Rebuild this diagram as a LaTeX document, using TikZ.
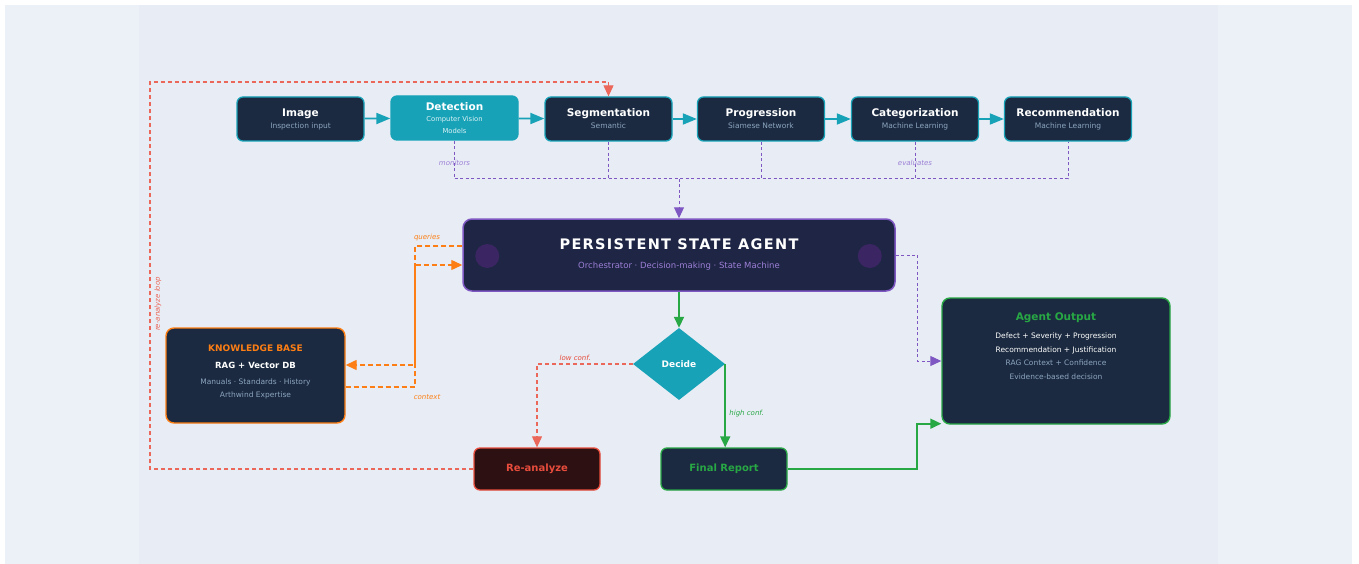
\documentclass[tikz,border=0pt]{standalone}
\usepackage{fontspec}
\setmainfont{DejaVu Sans}
\usetikzlibrary{arrows.meta,positioning,shapes.geometric}
\definecolor{navy}{HTML}{1B2A40}
\definecolor{agentbg}{HTML}{1F2545}
\definecolor{tealc}{HTML}{17A2B8}
\definecolor{subgray}{HTML}{8CA5BF}
\definecolor{purp}{HTML}{7E57C2}
\definecolor{purptxt}{HTML}{9C7FD6}
\definecolor{orng}{HTML}{FD7E14}
\definecolor{redc}{HTML}{E74C3C}
\definecolor{redbg}{HTML}{2C1012}
\definecolor{grn}{HTML}{28A745}
\definecolor{panel}{HTML}{ECF0F7}
\definecolor{panelin}{HTML}{E8EDF5}
\definecolor{dot}{HTML}{3B2563}
\newcommand{\boxtitle}{\fontsize{10.5}{13}\selectfont\bfseries}
\newcommand{\boxsub}{\fontsize{7.5}{9}\selectfont\mdseries\color{subgray}}
\newcommand{\tagtext}{\fontsize{7}{8}\selectfont\itshape}

\begin{document}
\begin{tikzpicture}[x=1pt,y=-1pt,
  stage/.style={draw=tealc,fill=navy,line width=1.3pt,rounded corners=6pt,
    minimum width=127pt,minimum height=44pt,inner sep=0pt,align=center,text=white},
  flow/.style={draw=tealc,line width=1.8pt,-{Triangle[length=14pt,width=11pt]}},
  mon/.style={draw=purp,line width=1pt,dash pattern=on 3pt off 2.5pt},
  kbline/.style={draw=orng,line width=1.4pt,dash pattern=on 5pt off 3pt},
  loopline/.style={draw=redc!85!white,line width=1.1pt,dash pattern=on 4pt off 3pt},
  okline/.style={draw=grn,line width=1.7pt},
  tip/.style={-{Triangle[length=11pt,width=10pt]}}]
% background
\fill[white] (0,0) rectangle (1359,564);
\fill[panel] (5,5) rectangle (1352,564);
\fill[panelin] (139,5) rectangle (1218,564);
\useasboundingbox (0,0) rectangle (1359,564);

% pipeline row
\node[stage] (img) at (300.5,119) {\boxtitle Image\\[0pt]\boxsub Inspection input};
\node[stage,fill=tealc] (det) at (454.5,118) {\boxtitle Detection\\[-1pt]%
  \fontsize{6.8}{9.5}\selectfont\color{white!85!tealc} Computer Vision\\ \fontsize{6.8}{9.5}\selectfont\color{white!85!tealc}Models};
\node[stage] (seg) at (608.5,119) {\boxtitle Segmentation\\[0pt]\boxsub Semantic};
\node[stage] (prog) at (761,119) {\boxtitle Progression\\[0pt]\boxsub Siamese Network};
\node[stage] (cat) at (915,119) {\boxtitle Categorization\\[0pt]\boxsub Machine Learning};
\node[stage] (rec) at (1068,119) {\boxtitle Recommendation\\[0pt]\boxsub Machine Learning};
\foreach \a/\b in {img/det,det/seg,seg/prog,prog/cat,cat/rec}
  \draw[flow] (\a) -- (\b);

% agent
\node[draw=purp,fill=agentbg,line width=1.5pt,rounded corners=9pt,minimum width=432pt,
  minimum height=72pt,inner sep=0pt,align=center,text=white] (agent) at (679,255)
  {{\fontsize{14.5}{17}\selectfont\bfseries\addfontfeature{LetterSpace=9}PERSISTENT STATE AGENT}\\[7pt]
   \fontsize{8.5}{10}\selectfont\color{purptxt}Orchestrator · Decision-making · State Machine};
\fill[dot] ([xshift=25pt,yshift=-1pt]agent.west) circle[radius=12pt];
\fill[dot] ([xshift=-26pt,yshift=-1pt]agent.east) circle[radius=12pt];

% monitoring bus
\coordinate (hub) at (679,179);
\draw[mon] (det.south) -- node[pos=0.57,text=purptxt]{\tagtext monitors} (det.south |- hub) -- (rec.south |- hub) -- (rec.south);
\draw[mon] (seg.south) -- (seg.south |- hub);
\draw[mon] (prog.south) -- (prog.south |- hub);
\draw[mon] (cat.south) -- node[pos=0.57,text=purptxt]{\tagtext evaluates} (cat.south |- hub);
\draw[mon,tip] (hub) -- (agent.north);

% knowledge base
\node[draw=orng,fill=navy,line width=1.4pt,rounded corners=8pt,minimum width=179pt,
  minimum height=95pt,inner sep=0pt] (kb) at (255.5,375.5) {};
\node[below=14pt of kb.north,align=center,text=white] (kbtxt)
  {{\fontsize{9}{11}\selectfont\bfseries\color{orng}KNOWLEDGE BASE}\\[5pt]
   {\fontsize{8.5}{11}\selectfont\bfseries RAG + Vector DB}\\[3.5pt]
   \fontsize{7.5}{13}\selectfont\color{subgray}Manuals · Standards · History\\[1pt]
   \fontsize{7.5}{13}\selectfont\color{subgray}Arthwind Expertise};
\draw[kbline,tip] ([yshift=9pt]agent.west) -| (415,320) |- ([yshift=10.5pt]kb.east);
\draw[kbline,tip] ([yshift=-11.5pt]kb.east) -| (415,300) |- ([yshift=-10pt]agent.west);
\node[text=orng] (qlab) at (427,238) {\tagtext queries};
\node[text=orng] (clab) at (427,397) {\tagtext context};

% decision
\node[diamond,fill=tealc,minimum width=92pt,minimum height=72pt,inner sep=0pt,
  text=white] (dec) at (679,364) {\fontsize{9}{11}\selectfont\bfseries Decide};
\draw[okline,tip] (agent.south) -- (dec.north);

\node[draw=redc,fill=redbg,line width=1.3pt,rounded corners=6pt,minimum width=126pt,
  minimum height=42pt,inner sep=0pt,text=redc] (rean) at (537,469)
  {\fontsize{10}{12}\selectfont\bfseries Re-analyze};
\node[draw=grn,fill=navy,line width=1.3pt,rounded corners=6pt,minimum width=126pt,
  minimum height=42pt,inner sep=0pt,text=grn] (final) at (724,469)
  {\fontsize{10}{12}\selectfont\bfseries Final Report};

\draw[loopline,tip] (dec.west) -| node[pos=0.3,above,text=redc]{\tagtext low conf.} (rean.north);
\draw[okline,tip] (dec.east) -- node[pos=0.6,right,text=grn]{\tagtext high conf.} (dec.east |- final.north);

% re-analyze loop
\coordinate (loopc) at (150,82);
\draw[loopline,tip] (rean.west) -| (loopc) -| (seg.north);
\node[rotate=90,text=redc!85!white] (looplab) at (158,304) {\tagtext re-analyze loop};

% output
\node[draw=grn,fill=navy,line width=1.4pt,rounded corners=8pt,minimum width=228pt,
  minimum height=126pt,inner sep=0pt] (out) at (1056,361) {};
\node[below=12pt of out.north,align=center,text=white] (outtxt)
  {{\fontsize{10.5}{13}\selectfont\bfseries\color{grn}Agent Output}\\[6pt]
   \fontsize{7.5}{13}\selectfont Defect + Severity + Progression\\[1.5pt]
   \fontsize{7.5}{13}\selectfont Recommendation + Justification\\[1.5pt]
   \fontsize{7.5}{13}\selectfont\color{subgray}RAG Context + Confidence\\[1.5pt]
   \fontsize{7.5}{13}\selectfont\color{subgray}Evidence-based decision};
\draw[mon,tip] (agent.east) -| ([xshift=-24pt]out.west) -- (out.west);
\draw[okline,tip] (final.east) -| ([xshift=-24pt,yshift=1pt]out.south west) -- ([yshift=1pt]out.south west);
\end{tikzpicture}
\end{document}
